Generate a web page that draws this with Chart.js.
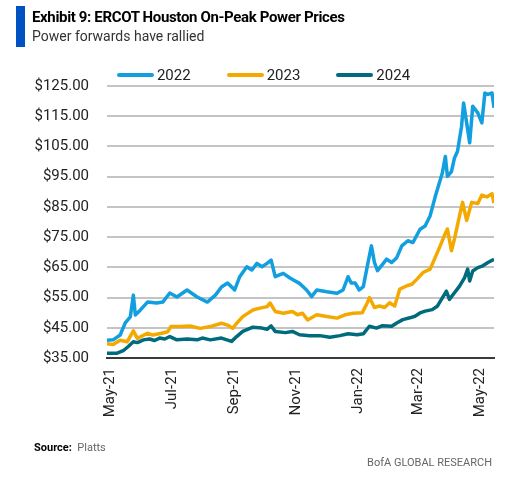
<!DOCTYPE html>
<html>
<head>
<meta charset="utf-8">
<script src="https://cdn.jsdelivr.net/npm/chart.js@4/dist/chart.umd.min.js"></script>
<style>
  body { margin: 0; background: #fff; font-family: Roboto, "Noto Sans", sans-serif; }
  #wrap { position: relative; width: 521px; height: 481px; overflow: hidden; }
  #bar { position: absolute; left: 16px; top: 6px; width: 9px; height: 41px; background: #0052c2; }
  #title { position: absolute; left: 32px; top: 8px; font-size: 15px; font-weight: bold; color: #000; letter-spacing: -0.35px; }
  #sub { position: absolute; left: 32px; top: 28px; font-size: 14px; color: #333; }
  #legend { position: absolute; top: 66px; left: 3px; width: 521px; display: flex; justify-content: center; gap: 36px; font-size: 15px; color: #222; }
  #legend span.item { display: flex; align-items: center; }
  #legend span.sw { display: inline-block; width: 37px; height: 4px; border-radius: 2px; margin-right: 3px; }
  #source { position: absolute; left: 34px; top: 441px; font-size: 11px; color: #666; }
  #source b { color: #000; }
  #brand { position: absolute; right: 29px; top: 456px; font-size: 11px; color: #666; }
  canvas { position: absolute; left: 0; top: 0; }
</style>
</head>
<body>
<div id="wrap">
  <canvas id="chart" width="521" height="481"></canvas>
  <div id="bar"></div>
  <div id="title">Exhibit 9: ERCOT Houston On-Peak Power Prices</div>
  <div id="sub">Power forwards have rallied</div>
  <div id="legend"></div>
  <div id="source"><b>Source:</b>&nbsp; Platts</div>
  <div id="brand">BofA GLOBAL RESEARCH</div>
</div>
<script>
// days counted from 1 May 2021
var tickDays = [0, 61, 123, 184, 245, 304, 365];
var tickLabels = ['May-21', 'Jul-21', 'Sep-21', 'Nov-21', 'Jan-22', 'Mar-22', 'May-22'];

var names = ['2022', '2023', '2024'];
var colors = ['#129fdf', '#f4a900', '#006b7d'];

var days2022 = [-3,3,10,15,20,23,25,30,37,46, 52,59,66,76,86,96,104,110,116,121,
  123,128,135,140,145,150,155,159,163,171, 178,187,194,199,204,214,224,230,235,238,
  242,246,250,254,258,261,264,269,273,278, 283,288,294,299,306,311,316,321,328,331,
  333,337,340,343,347,349,352,355,358,363, 367,370,373,377,379];
var vals2022 = [40.9,41.0,42.6,46.6,48.6,55.8,49.2,50.9,53.5,53.2, 53.5,56.5,55.2,57.5,55.2,53.5,55.8,58.5,59.8,58.2,
  57.5,61.9,65.2,64.1,66.3,65.2,66.3,67.4,61.9,63.0, 61.4,59.7,57.5,55.3,57.5,56.9,56.4,57.5,61.9,59.8,
  59.8,57.5,58.6,65.5,72.1,66.6,63.9,66.0,67.7,66.6, 68.2,72.1,73.8,73.2,77.6,78.7,82.1,88.4,96.2,101.7,
  95.1,96.7,101.2,103.4,111.7,119.4,112.8,106.2,118.3,116.1, 112.8,122.7,122.2,122.7,117.8];

var days2023 = [-3,3,10,17,23,27,37,42,51,57, 60,69,79,89,99,110,116,121,125,131,
  141,148,155,158,163,171,180,185,190,195, 204,214,224,232,240,249,254,256,261,266,
  271,276,281,286,293,298,303,309,316,321, 326,330,333,337,340,345,348,352,357,363,
  367,372,377,379];
var vals2023 = [39.7,39.5,40.9,40.4,44.0,41.5,43.2,42.6,43.2,43.7, 45.4,45.4,45.6,44.8,45.4,46.5,45.9,44.8,46.5,48.7,
  50.9,51.5,52.0,53.2,50.4,49.8,50.4,49.3,49.8,47.6, 49.3,48.7,48.2,49.3,49.8,50.0,53.3,55.0,51.7,52.2,
  51.7,53.3,52.2,57.8,58.9,59.4,61.1,63.3,64.4,68.3, 72.2,75.5,77.7,70.5,74.4,82.1,86.5,80.5,86.5,86.1,
  88.9,88.3,89.4,86.2];

var days2024 = [-3,7,13,18,23,27,33,39,44,49, 54,59,66,76,86,91,99,110,120,125,
  131,141,150,155,159,163,173,180,187,197, 207,217,227,235,244,250,256,263,269,278,
  283,289,296,301,306,311,318,323,328,332, 335,340,345,350,353,355,358,363,368,373,
  379];
var vals2024 = [36.6,36.6,37.4,38.8,40.4,40.1,41.0,41.3,40.8,41.6, 41.3,42.1,41.0,41.3,41.0,41.6,41.0,41.6,40.5,42.1,
  43.8,45.2,44.9,44.5,45.6,43.8,43.4,43.8,42.7,42.4, 42.4,41.9,42.4,43.0,42.7,43.0,45.5,44.9,45.7,45.5,
  46.6,47.7,48.3,48.8,49.9,50.5,51.0,52.1,54.9,57.1, 54.4,56.6,58.8,61.6,64.4,60.5,63.8,64.9,65.5,66.6,
  67.7];

var allDays = [days2022, days2023, days2024];
var allVals = [vals2022, vals2023, vals2024];

function toPoints(d, v) {
    var pts = [];
    for (var i = 0; i < d.length; i++) {
        pts.push({ x: d[i], y: v[i] });
    }
    return pts;
}

var datasets = [];
for (var i = 0; i < names.length; i++) {
    datasets.push({
        label: names[i],
        data: toPoints(allDays[i], allVals[i]),
        borderColor: colors[i],
        borderWidth: 3.5,
        pointRadius: 0,
        tension: 0,
        borderJoinStyle: 'round',
        fill: false
    });
}

// legend in html
var leg = document.getElementById('legend');
names.forEach(function (n, i) {
    var it = document.createElement('span');
    it.className = 'item';
    it.innerHTML = '<span class="sw" style="background:' + colors[i] + '"></span>' + n;
    leg.appendChild(it);
});

var tickFont = { family: 'Roboto', size: 15 };

new Chart(document.getElementById('chart'), {
    type: 'line',
    data: { datasets: datasets },
    options: {
        responsive: false,
        animation: false,
        layout: { padding: { top: 86, right: 27, bottom: 0, left: 0 } },
        plugins: { legend: { display: false }, tooltip: { enabled: false } },
        scales: {
            x: {
                type: 'linear',
                min: -3,
                max: 379,
                grid: { display: false, drawTicks: false },
                border: { display: true, color: '#3a3a3a', width: 2 },
                afterBuildTicks: function (scale) {
                    scale.ticks = tickDays.map(function (d) { return { value: d }; });
                },
                afterFit: function (scale) { scale.height = 123; },
                ticks: {
                    minRotation: 90,
                    maxRotation: 90,
                    padding: 10,
                    color: '#222',
                    font: tickFont,
                    callback: function (v) {
                        var k = tickDays.indexOf(v);
                        return k >= 0 ? tickLabels[k] : '';
                    }
                }
            },
            y: {
                min: 35,
                max: 125,
                grid: {
                    drawTicks: false,
                    lineWidth: 2,
                    color: function (c) { return c.tick && c.tick.value === 35 ? 'rgba(0,0,0,0)' : '#c4c4c4'; }
                },
                border: { display: false },
                afterFit: function (scale) { scale.width = 107; },
                ticks: {
                    stepSize: 10,
                    padding: 18,
                    color: '#222',
                    font: tickFont,
                    callback: function (v) { return '$' + v.toFixed(2); }
                }
            }
        }
    }
});
</script>
</body>
</html>
